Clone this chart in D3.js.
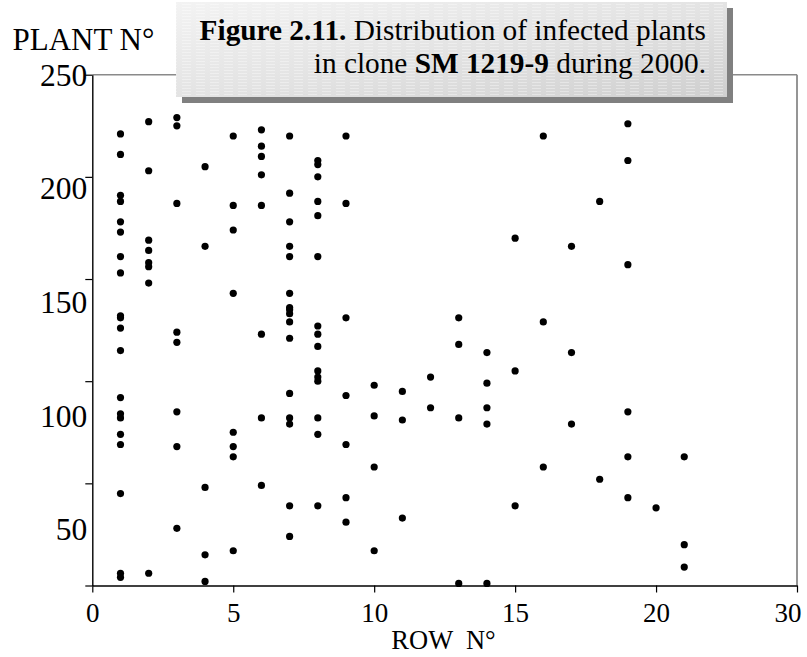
<!DOCTYPE html>
<html>
<head>
<meta charset="utf-8">
<script src="https://cdn.jsdelivr.net/npm/d3@7/dist/d3.min.js"></script>
<style>
  html, body { margin: 0; padding: 0; background: #fff; }
  svg { display: block; }
  text { font-family: "Liberation Serif", "Times New Roman", serif; fill: #000; }
</style>
</head>
<body>
<svg id="chart" width="807" height="657"></svg>
<script>
// Infected plants: row number and plant number within the row (parallel arrays)
const rows = [
  1,1,1,1,1,1,1,1,1,1,1,1,1,1,1,1,1,1,1,1,
  2,2,2,2,2,2,2,2,
  3,3,3,3,3,3,3,3,
  4,4,4,4,4,
  5,5,5,5,5,5,5,5,
  6,6,6,6,6,6,6,6,
  7,7,7,7,7,7,7,7,7,7,7,7,7,7,7,7,
  8,8,8,8,8,8,8,8,8,8,8,8,8,8,8,
  9,9,9,9,9,9,9,
  10,10,10,10,
  11,11,11,
  12,12,
  13,13,13,13,
  14,14,14,14,14,
  15,15,15,
  16,16,16,
  17,17,17,
  18,18,
  19,19,19,19,19,19,
  20,
  21,21,21
];
const plants = [
  221,211,191,188,178,173,161,153,132,131,126,115,92,84,82,74,69,45,6,4,
  227,203,169,164,158,156,148,6,
  229,225,187,124,119,85,68,28,
  205,166,48,15,2,
  220,186,174,143,75,68,63,17,
  223,215,210,201,186,123,82,49,
  220,192,178,166,161,143,136,135,133,129,121,94,82,79,39,24,
  208,206,200,188,181,161,127,123,117,105,102,100,82,74,39,
  220,187,131,93,69,43,31,
  98,83,58,17,
  95,81,33,
  102,87,
  131,118,82,1,
  114,99,87,79,1,
  170,105,39,
  220,129,58,
  166,114,79,
  188,52,
  226,208,157,85,63,43,
  38,
  63,20,9
];

// Axis ticks and their printed labels
const xTickValues = [0, 5, 10, 15, 20, 25];
const xTickLabels = ["0", "5", "10", "15", "20", "30"];
const yTickValues = [0, 50, 100, 150, 200, 250];
const yLabelValues = [50, 100, 150, 200, 250];

const titleBold = "Figure 2.11.";
const titleRest = " Distribution of infected plants";
const subtitleA = "in clone ";
const subtitleBold = "SM 1219-9";
const subtitleB = " during 2000.";

const svg = d3.select("#chart");
const plot = { left: 92.3, right: 797, top: 74.7, bottom: 585.5 };

const x = d3.scaleLinear().domain([0, 25]).range([plot.left, plot.right]);
const y = d3.scaleLinear().domain([0, 250]).range([plot.bottom, plot.top]);
// printed plant labels are spaced on their own scale along the left side
const yLabel = d3.scaleLinear().domain([50, 250]).range([529, 74.5]);

const defs = svg.append("defs");
const grad = defs.append("linearGradient").attr("id", "boxFill")
  .attr("x1", "0%").attr("y1", "0%").attr("x2", "100%").attr("y2", "100%");
grad.append("stop").attr("offset", "0%").attr("stop-color", "#f3f3f3");
grad.append("stop").attr("offset", "55%").attr("stop-color", "#e2e2e2");
grad.append("stop").attr("offset", "100%").attr("stop-color", "#cfcfcf");
const pat = defs.append("pattern").attr("id", "boxLines")
  .attr("patternUnits", "userSpaceOnUse").attr("width", 14).attr("height", 3);
pat.append("line").attr("x1", 0).attr("x2", 9).attr("y1", 1.5).attr("y2", 1.5)
  .attr("stroke", "#ffffff").attr("stroke-opacity", 0.35).attr("stroke-width", 1);

// gray frame on the top and right of the plot
svg.append("line")
  .attr("x1", plot.left).attr("x2", plot.right).attr("y1", plot.top).attr("y2", plot.top)
  .attr("stroke", "#8a8a8a").attr("stroke-width", 1.6);
svg.append("line")
  .attr("x1", plot.right).attr("x2", plot.right).attr("y1", plot.top).attr("y2", plot.bottom)
  .attr("stroke", "#8a8a8a").attr("stroke-width", 1.8);

// x axis
const xAxis = svg.append("g")
  .attr("transform", `translate(0,${plot.bottom})`)
  .call(d3.axisBottom(x).tickValues(xTickValues)
    .tickFormat((d, i) => xTickLabels[i]).tickSize(7).tickSizeOuter(0).tickPadding(10));
xAxis.select(".domain").attr("stroke", "#000").attr("stroke-width", 1.4);
xAxis.selectAll(".tick line").attr("stroke", "#000").attr("stroke-width", 1.2);
xAxis.selectAll(".tick text").attr("font-size", 27).attr("font-family", "Liberation Serif").attr("dy", "0.71em");
// the last label is pulled inside the right edge
xAxis.selectAll(".tick text").filter(d => d === xTickValues[xTickValues.length - 1])
  .attr("text-anchor", "end").attr("dx", 4);

// y axis (tick marks)
const yAxis = svg.append("g")
  .attr("transform", `translate(${plot.left},0)`)
  .call(d3.axisLeft(y).tickValues(yTickValues).tickFormat("").tickSize(7).tickSizeOuter(0));
yAxis.select(".domain").attr("stroke", "#000").attr("stroke-width", 1.4);
yAxis.selectAll(".tick line").attr("stroke", "#000").attr("stroke-width", 1.2);

// y axis labels
const yLab = svg.append("g")
  .attr("transform", `translate(${plot.left},0)`)
  .call(d3.axisLeft(yLabel).tickValues(yLabelValues).tickSize(0).tickPadding(5));
yLab.select(".domain").remove();
yLab.selectAll(".tick text").attr("font-size", 31.5).attr("font-family", "Liberation Serif").attr("dy", "0.34em");

// points
svg.append("g").selectAll("circle")
  .data(plants.map((p, i) => ({ row: rows[i], plant: p })))
  .join("circle")
  .attr("cx", d => x(d.row))
  .attr("cy", d => y(d.plant))
  .attr("r", 3.6)
  .attr("fill", "#000");

// axis titles
svg.append("text").attr("x", 12.5).attr("y", 50)
  .attr("font-size", 31).text("PLANT N\u00B0");
svg.append("text").attr("x", 443.5).attr("y", 649)
  .attr("text-anchor", "middle").attr("font-size", 26.5)
  .style("white-space", "pre").text("ROW  N\u00B0");

// title box with drop shadow
const box = { x: 176, y: 2, w: 551, h: 95, off: 6 };
svg.append("rect").attr("x", box.x + box.off).attr("y", box.y + box.off)
  .attr("width", box.w).attr("height", box.h).attr("fill", "#808080");
svg.append("rect").attr("x", box.x).attr("y", box.y)
  .attr("width", box.w).attr("height", box.h).attr("fill", "url(#boxFill)");
svg.append("rect").attr("x", box.x).attr("y", box.y)
  .attr("width", box.w).attr("height", box.h).attr("fill", "url(#boxLines)");

const t1 = svg.append("text").attr("x", 706).attr("y", 40)
  .attr("text-anchor", "end").attr("font-size", 29.3).style("white-space", "pre");
t1.append("tspan").attr("font-weight", "bold").text(titleBold);
t1.append("tspan").text(titleRest);
const t2 = svg.append("text").attr("x", 706).attr("y", 73)
  .attr("text-anchor", "end").attr("font-size", 29.3).style("white-space", "pre");
t2.append("tspan").text(subtitleA);
t2.append("tspan").attr("font-weight", "bold").text(subtitleBold);
t2.append("tspan").text(subtitleB);
</script>
</body>
</html>
